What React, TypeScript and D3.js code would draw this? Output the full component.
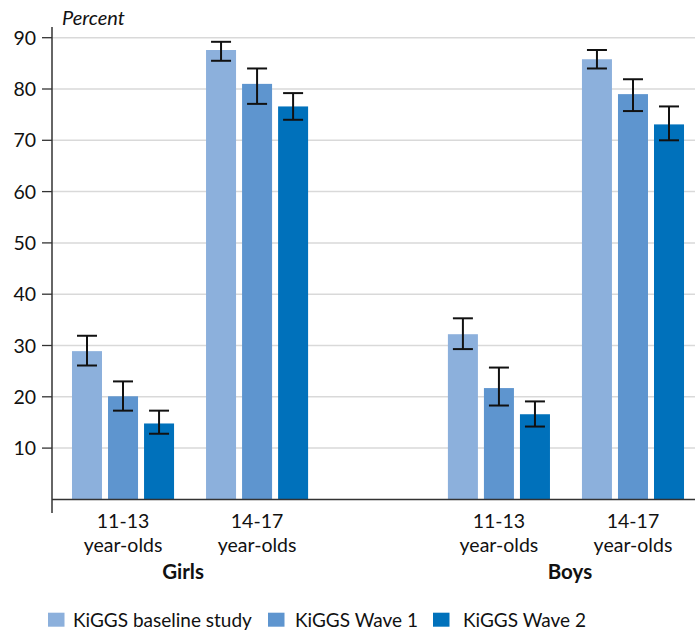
import React from "react";
import * as d3 from "d3";

const sexes = ["Girls", "Boys"];
const ages = ["11-13", "14-17"];
const waves = ["KiGGS baseline study", "KiGGS Wave 1", "KiGGS Wave 2"];
const yTicks = [10, 20, 30, 40, 50, 60, 70, 80, 90];

// values ordered: Girls 11-13, Girls 14-17, Boys 11-13, Boys 14-17
const baseline = [28.9, 87.6, 32.2, 85.8];
const wave1 = [20.1, 81.0, 21.7, 79.0];
const wave2 = [14.8, 76.6, 16.6, 73.1];
const baselineLo = [26.1, 85.5, 29.3, 84.0];
const baselineHi = [31.9, 89.2, 35.3, 87.6];
const wave1Lo = [17.3, 77.1, 18.3, 75.7];
const wave1Hi = [23.0, 84.0, 25.7, 81.9];
const wave2Lo = [12.8, 74.0, 14.2, 70.0];
const wave2Hi = [17.3, 79.2, 19.1, 76.6];

const colors = ["#8cb0dc", "#5e95cf", "#0071bb"];

const W = 695;
const H = 631;
const FONT = "Lato, 'Open Sans', sans-serif";

export default function App() {
  const y = d3.scaleLinear().domain([0, 90]).range([499.4, 37.7]);
  const xSex = d3.scaleBand<string>().domain(sexes).range([69, 687]).paddingInner(0.356).paddingOuter(0);
  const xAge = d3.scaleBand<string>().domain(ages).range([0, xSex.bandwidth()]).paddingInner(0.194).paddingOuter(0);
  const xWave = d3.scaleBand<string>().domain(waves).range([0, xAge.bandwidth()]).paddingInner(0.167).paddingOuter(0.083);

  const vals = [baseline, wave1, wave2];
  const los = [baselineLo, wave1Lo, wave2Lo];
  const his = [baselineHi, wave1Hi, wave2Hi];

  const axisX = 52;
  const plotRight = 695;
  const legendSq = [48, 268, 433];
  const legendTx = [73, 295, 463];
  const sexDx = [-7, 4];

  const bars: React.ReactNode[] = [];
  sexes.forEach((s, si) => {
    ages.forEach((a, ai) => {
      const idx = si * 2 + ai;
      waves.forEach((w, wi) => {
        const x0 = (xSex(s) as number) + (xAge(a) as number) + (xWave(w) as number);
        const bw = xWave.bandwidth();
        const v = vals[wi][idx];
        const cx = x0 + bw / 2;
        bars.push(
          <g key={`${s}-${a}-${w}`}>
            <rect x={x0} y={y(v)} width={bw} height={y(0) - y(v)} fill={colors[wi]} />
            <line x1={cx} x2={cx} y1={y(los[wi][idx])} y2={y(his[wi][idx])} stroke="#111" strokeWidth={2} />
            <line x1={cx - 10} x2={cx + 10} y1={y(los[wi][idx])} y2={y(los[wi][idx])} stroke="#111" strokeWidth={2} />
            <line x1={cx - 10} x2={cx + 10} y1={y(his[wi][idx])} y2={y(his[wi][idx])} stroke="#111" strokeWidth={2} />
          </g>
        );
      });
    });
  });

  return (
    <svg width={W} height={H} style={{ position: "absolute", left: 0, top: 0 }} fontFamily={FONT}>
      <rect width={W} height={H} fill="#fff" />
      {yTicks.map((t) => (
        <g key={t}>
          <line x1={axisX} x2={plotRight} y1={y(t)} y2={y(t)} stroke="#d9d9d9" strokeWidth={1.5} />
          <line x1={42} x2={axisX} y1={y(t)} y2={y(t)} stroke="#333" strokeWidth={1.3} />
          <text x={36} y={y(t)} dy="0.36em" textAnchor="end" fontSize={19.5} fill="#111">
            {t}
          </text>
        </g>
      ))}
      <text x={62} y={25} fontSize={20} fontStyle="italic" fill="#111">
        Percent
      </text>
      {bars}
      <line x1={axisX} x2={plotRight} y1={y(0)} y2={y(0)} stroke="#333" strokeWidth={1.5} />
      <line x1={axisX} x2={axisX} y1={27} y2={513} stroke="#333" strokeWidth={1.5} />
      {sexes.map((s, si) => (
        <g key={s}>
          {ages.map((a) => {
            const cx = (xSex(s) as number) + (xAge(a) as number) + xAge.bandwidth() / 2;
            return (
              <g key={a}>
                <text x={cx} y={528} textAnchor="middle" fontSize={19.5} fill="#111">
                  {a}
                </text>
                <text x={cx} y={552} textAnchor="middle" fontSize={19.5} fill="#111">
                  year-olds
                </text>
              </g>
            );
          })}
          <text
            x={(xSex(s) as number) + xSex.bandwidth() / 2 + sexDx[si]}
            y={579}
            textAnchor="middle"
            fontSize={20.5}
            fontWeight="bold"
            fill="#111"
          >
            {s}
          </text>
        </g>
      ))}
      {waves.map((w, i) => (
        <g key={w}>
          <rect x={legendSq[i]} y={612.7} width={16.5} height={14} fill={colors[i]} />
          <text x={legendTx[i]} y={626.5} fontSize={19} fill="#111">
            {w}
          </text>
        </g>
      ))}
    </svg>
  );
}
